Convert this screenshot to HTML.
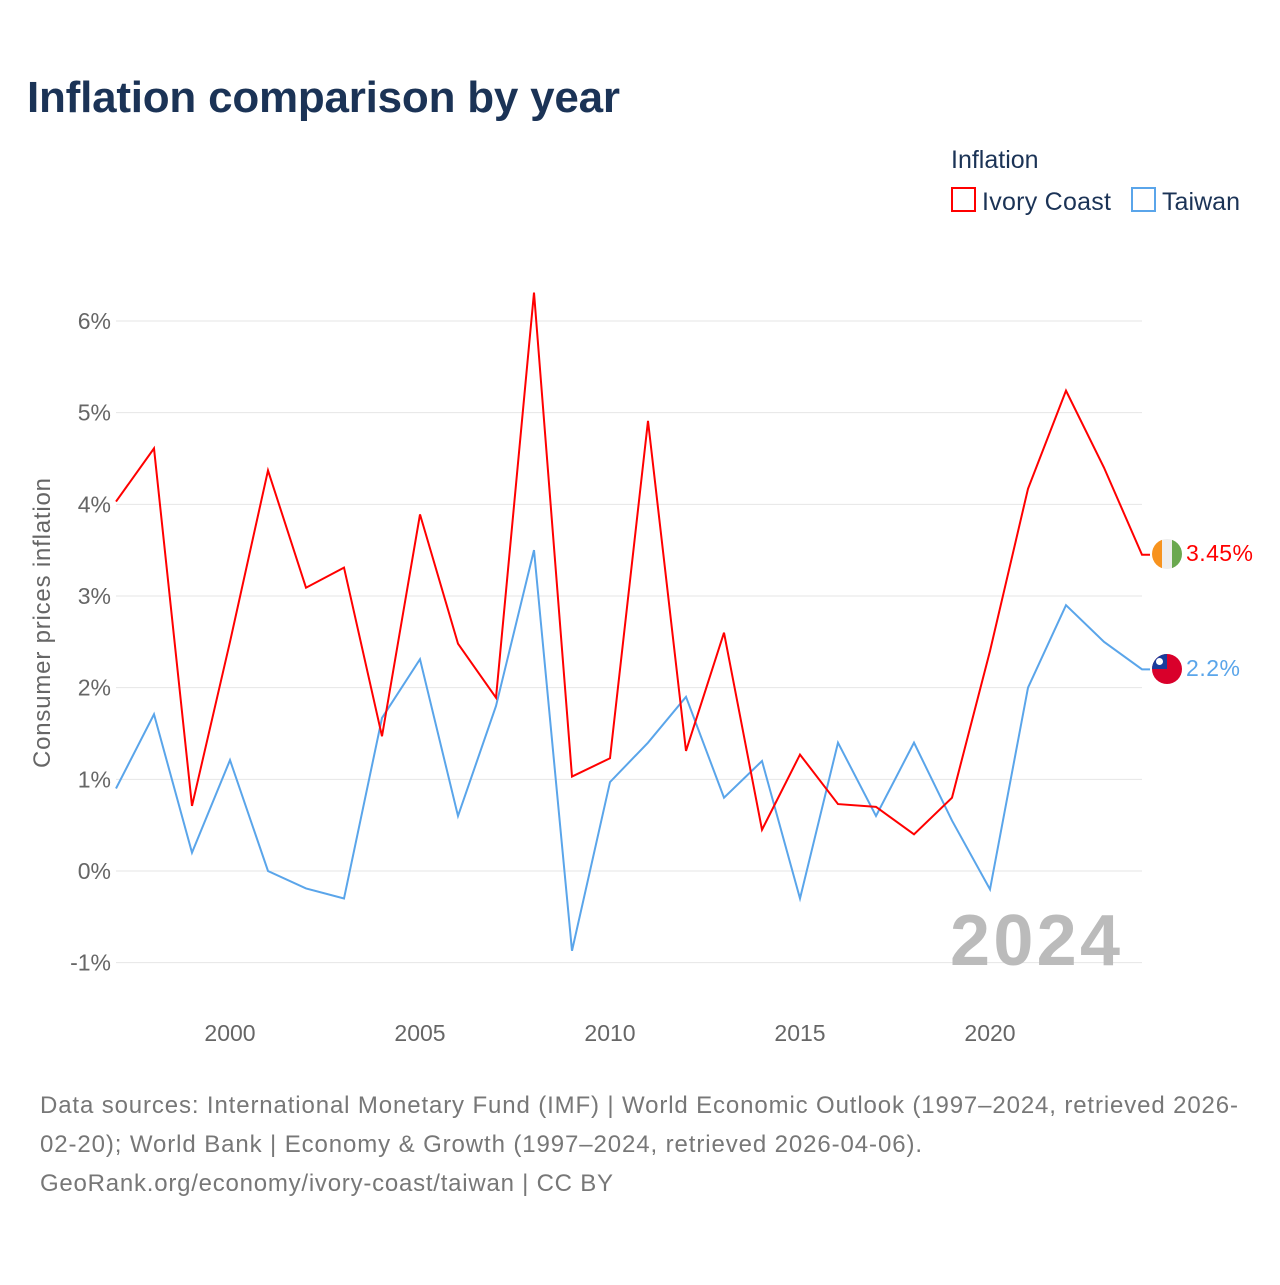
<!DOCTYPE html>
<html><head><meta charset="utf-8"><style>
body{margin:0;background:#fff;font-family:"Liberation Sans",sans-serif;}
svg text{font-family:"Liberation Sans",sans-serif;}
</style></head><body>
<svg id="chart" width="1280" height="1280">
<text x="27" y="112" font-size="44" font-weight="bold" fill="#1b3356" textLength="593">Inflation comparison by year</text>
<text x="951" y="168" font-size="25" fill="#1b3356">Inflation</text>
<g><rect x="952" y="188" width="23" height="23" fill="none" stroke="#f00" stroke-width="2"/><text x="982" y="210" font-size="25" fill="#1b3356" textLength="129">Ivory Coast</text></g>
<g><rect x="1132" y="188" width="23" height="23" fill="none" stroke="#5aa5ea" stroke-width="2"/><text x="1162" y="210" font-size="25" fill="#1b3356" textLength="78">Taiwan</text></g>
<text transform="translate(50,623) rotate(-90)" text-anchor="middle" font-size="24" fill="#666" textLength="290">Consumer prices inflation</text>
<g id="grid"></g><g id="xt"></g>
<text x="950" y="965" font-size="72" font-weight="bold" fill="#bbb" textLength="170">2024</text>
<g id="lines"></g>
<g><clipPath id="c1"><circle cx="1167" cy="554" r="15"/></clipPath><g clip-path="url(#c1)"><rect x="1152" y="539" width="10" height="30" fill="#f7931e"/><rect x="1162" y="539" width="10" height="30" fill="#eee"/><rect x="1172" y="539" width="10" height="30" fill="#6aa84f"/></g></g>
<g><clipPath id="c2"><circle cx="1167" cy="669" r="15"/></clipPath><g clip-path="url(#c2)"><rect x="1152" y="654" width="30" height="30" fill="#d9002b"/><rect x="1152" y="654" width="15" height="15" fill="#1a3c9c"/><circle cx="1159.5" cy="661.5" r="3.5" fill="#fff"/></g></g>
<text x="1186" y="561" font-size="23" fill="#f00" textLength="67">3.45%</text>
<text x="1186" y="676" font-size="23" fill="#5aa5ea" textLength="54">2.2%</text>
<text font-size="24" fill="#777"><tspan x="40" y="1113" textLength="1198">Data sources: International Monetary Fund (IMF) | World Economic Outlook (1997–2024, retrieved 2026-</tspan><tspan x="40" y="1152" textLength="882">02-20); World Bank | Economy &amp; Growth (1997–2024, retrieved 2026-04-06).</tspan><tspan x="40" y="1191" textLength="573">GeoRank.org/economy/ivory-coast/taiwan | CC BY</tspan></text>
</svg>
<script>
const years=[1997,1998,1999,2000,2001,2002,2003,2004,2005,2006,2007,2008,2009,2010,2011,2012,2013,2014,2015,2016,2017,2018,2019,2020,2021,2022,2023,2024];
const ivoryCoast=[4.03,4.61,0.71,2.5,4.37,3.09,3.31,1.47,3.89,2.48,1.89,6.31,1.03,1.23,4.91,1.31,2.6,0.45,1.27,0.73,0.7,0.4,0.8,2.4,4.17,5.24,4.4,3.45];
const taiwan=[0.9,1.71,0.2,1.21,0,-0.19,-0.3,1.67,2.31,0.6,1.8,3.5,-0.87,0.97,1.4,1.9,0.8,1.2,-0.3,1.4,0.6,1.4,0.55,-0.2,2.0,2.9,2.5,2.2];
const yTicks=[-1,0,1,2,3,4,5,6];
const xTicks=[2000,2005,2010,2015,2020];
const X=y=>116+(y-1997)*38, Y=v=>871-v*91.67;
const ns="http://www.w3.org/2000/svg";
const g=document.getElementById('grid'),xt=document.getElementById('xt'),L=document.getElementById('lines');
yTicks.forEach(t=>{
 const l=document.createElementNS(ns,'line');
 l.setAttribute('x1',116);l.setAttribute('x2',1142);l.setAttribute('y1',Y(t));l.setAttribute('y2',Y(t));l.setAttribute('stroke','#e6e6e6');
 
 
 g.appendChild(l);
 const tx=document.createElementNS(ns,'text');
 tx.setAttribute('x',111);tx.setAttribute('y',Y(t)+8);tx.setAttribute('text-anchor','end');tx.setAttribute('font-size','23');tx.setAttribute('fill','#666');
 tx.textContent=t+'%';
 
 
 g.appendChild(tx);
});
xTicks.forEach(t=>{
 const tx=document.createElementNS(ns,'text');
 tx.setAttribute('x',X(t));tx.setAttribute('y',1041);tx.setAttribute('text-anchor','middle');tx.setAttribute('font-size','23');tx.setAttribute('fill','#666');
 tx.textContent=t;
 
 
 xt.appendChild(tx);
});
function line(vals,color,name){
 let d=vals.map((v,i)=>(i?'L':'M')+X(years[i])+','+Y(v)).join('');
 d+='L'+(X(years[years.length-1])+8)+','+Y(vals[vals.length-1]);
 const p=document.createElementNS(ns,'path');
 p.setAttribute('d',d);p.setAttribute('fill','none');p.setAttribute('stroke',color);p.setAttribute('stroke-width','2');
 
 
 L.appendChild(p);
}
line(taiwan,'#5aa5ea','taiwan-line');
line(ivoryCoast,'#f00','ivory-coast-line');
</script>
</body></html>
